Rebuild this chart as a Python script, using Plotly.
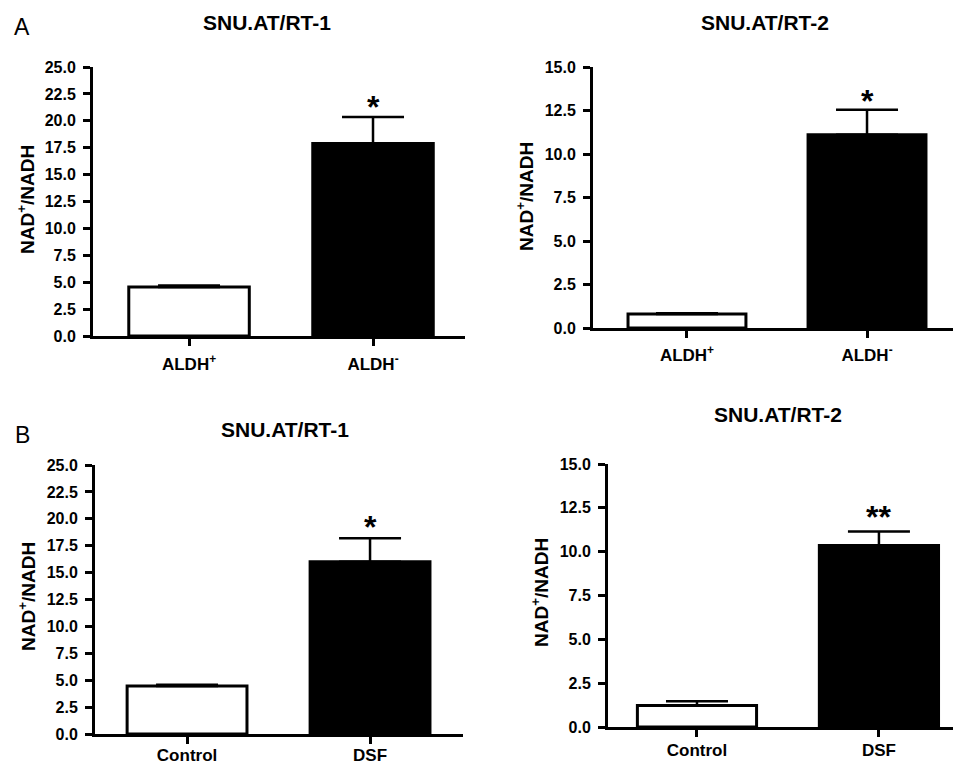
import plotly.graph_objects as go

# The page body adds an 8px margin, so the figure is made 8px smaller on each
# axis and positions are given in window pixels shifted by that margin.
OFF = 8
W, H = 961 - OFF, 763 - OFF

# ---------------- data ----------------
cats_A = ["ALDH<sup>+</sup>", "ALDH<sup>-</sup>"]
cats_B = ["Control", "DSF"]

a1_vals = [4.55, 17.9]
a1_err = [0.15, 2.45]
a1_sig = ["", "*"]

a2_vals = [0.8, 11.1]
a2_err = [0.05, 1.45]
a2_sig = ["", "*"]

b1_vals = [4.45, 16.0]
b1_err = [0.12, 2.2]
b1_sig = ["", "*"]

b2_vals = [1.22, 10.35]
b2_err = [0.25, 0.8]
b2_sig = ["", "**"]

titles = ["SNU.AT/RT-1", "SNU.AT/RT-2", "SNU.AT/RT-1", "SNU.AT/RT-2"]
ytitle = "NAD<sup>+</sup>/NADH"

FONT = "Arial, Liberation Sans, sans-serif"

def px_x(p):
    return (p - OFF) / W

def px_y(p):
    return 1 - (p - OFF) / H

panels = [
    dict(cats=cats_A, vals=a1_vals, err=a1_err, sig=a1_sig, xl=93, xr=465, yt=67, yb=336,
         xrange=[-0.522, 1.5], ymax=25, title_xy=(267, 22), ytitle_xy=(26, 200), sig_shift=-10,
         xstand=4),
    dict(cats=cats_A, vals=a2_vals, err=a2_err, sig=a2_sig, xl=593, xr=961, yt=67, yb=328,
         xrange=[-0.522, 1.522], ymax=15, title_xy=(765, 22), ytitle_xy=(525, 197), sig_shift=-11,
         xstand=3),
    dict(cats=cats_B, vals=b1_vals, err=b1_err, sig=b1_sig, xl=95, xr=463, yt=465, yb=734,
         xrange=[-0.503, 1.508], ymax=25, title_xy=(285, 429), ytitle_xy=(27, 597), sig_shift=-9,
         xstand=-3),
    dict(cats=cats_B, vals=b2_vals, err=b2_err, sig=b2_sig, xl=608, xr=961, yt=464, yb=727,
         xrange=[-0.489, 1.451], ymax=15, title_xy=(778, 415), ytitle_xy=(540, 593), sig_shift=-5,
         xstand=-1),
]

fig = go.Figure()
layout = dict(
    width=W, height=H,
    margin=dict(l=0, r=0, t=0, b=0, autoexpand=False),
    paper_bgcolor="white", plot_bgcolor="white",
    showlegend=False,
    font=dict(family=FONT, color="black"),
)
annotations = []

for i, p in enumerate(panels):
    n = "" if i == 0 else str(i + 1)
    xa, ya = "x" + n, "y" + n
    fig.add_trace(go.Bar(
        x=[0, 1], y=p["vals"], width=0.655,
        marker=dict(color=["white", "black"], line=dict(color="black", width=3)),
        error_y=dict(type="data", array=p["err"], arrayminus=[0, 0], symmetric=False,
                     color="black", thickness=2.5, width=31),
        xaxis=xa, yaxis=ya, hoverinfo="skip",
    ))
    layout["xaxis" + n] = dict(
        domain=[px_x(p["xl"]), min(1.0, px_x(p["xr"]))], range=p["xrange"], anchor=ya,
        tickvals=[0, 1], ticktext=p["cats"], showline=True, linecolor="black", linewidth=3,
        ticks="outside", ticklen=7, tickwidth=2.5, tickcolor="black", showgrid=False,
        zeroline=False, fixedrange=True, automargin=False, ticklabelstandoff=p["xstand"],
        tickfont=dict(family=FONT, size=17, color="black", weight="bold"),
    )
    layout["yaxis" + n] = dict(
        domain=[px_y(p["yb"]), px_y(p["yt"])], range=[0, p["ymax"]], anchor=xa,
        tick0=0, dtick=2.5, tickformat=".1f", showline=True, linecolor="black", linewidth=3,
        ticks="outside", ticklen=7, tickwidth=2.5, tickcolor="black", showgrid=False,
        zeroline=False, fixedrange=True, ticklabelstandoff=4, automargin=False,
        tickfont=dict(family=FONT, size=16, color="black", weight="bold"),
    )
    for j in range(2):
        if p["sig"][j]:
            annotations.append(dict(
                x=j, y=p["vals"][j] + p["err"][j], xref=xa, yref=ya,
                text=p["sig"][j], showarrow=False, yanchor="bottom", yshift=p["sig_shift"],
                font=dict(family=FONT, size=32, color="black", weight="bold"),
            ))
    tx, ty = p["title_xy"]
    annotations.append(dict(
        x=px_x(tx), y=px_y(ty), xref="paper", yref="paper", text=titles[i],
        showarrow=False, xanchor="center", yanchor="middle",
        font=dict(family=FONT, size=21, color="black", weight="bold"),
    ))
    yx, yy = p["ytitle_xy"]
    annotations.append(dict(
        x=px_x(yx), y=px_y(yy), xref="paper", yref="paper", text=ytitle,
        showarrow=False, xanchor="center", yanchor="middle", textangle=-90,
        font=dict(family=FONT, size=19, color="black", weight="bold"),
    ))

for lab, lx, ly in [("A", 22, 27), ("B", 22, 435)]:
    annotations.append(dict(
        x=px_x(lx), y=px_y(ly), xref="paper", yref="paper", text=lab,
        showarrow=False, xanchor="center", yanchor="middle",
        font=dict(family=FONT, size=23, color="black"),
    ))

layout["annotations"] = annotations
fig.update_layout(**layout)
fig.write_html("out.html")
